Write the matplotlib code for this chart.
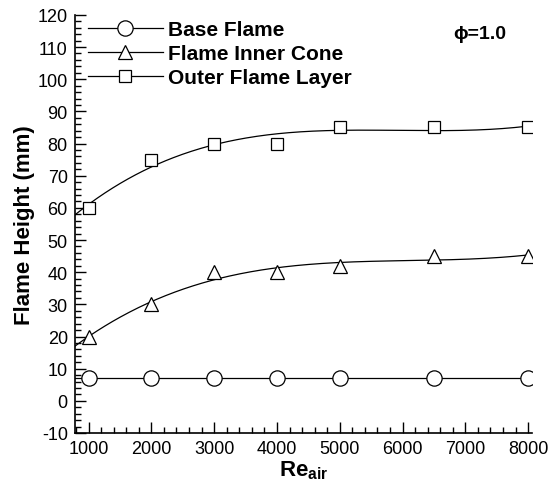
import numpy as np
import matplotlib
matplotlib.use("Agg")
import matplotlib.pyplot as plt
from matplotlib.ticker import MultipleLocator

plt.rcParams['font.family'] = ['Liberation Sans', 'DejaVu Sans']
plt.rcParams['axes.unicode_minus'] = False
plt.rcParams['mathtext.fontset'] = 'custom'
plt.rcParams['mathtext.rm'] = 'Liberation Sans:bold'
plt.rcParams['mathtext.bf'] = 'Liberation Sans:bold'
plt.rcParams['mathtext.default'] = 'bf'

re_air = [1000, 2000, 3000, 4000, 5000, 6500, 8000]
base_flame = [7, 7, 7, 7, 7, 7, 7]
inner_cone = [20, 30, 40, 40, 42, 45, 45]
outer_layer = [60, 75, 80, 80, 85, 85, 85]

fig = plt.figure(figsize=(5.54, 4.89), dpi=100)
ax = fig.add_axes([0.135, 0.1125, 0.825, 0.855])

xs = np.linspace(780, 8000, 300)
series = [(base_flame, 'o', 11, 'Base Flame', 0),
          (inner_cone, '^', 9.5, 'Flame Inner Cone', 3),
          (outer_layer, 's', 8, 'Outer Flame Layer', 3)]
for vals, mk, ms, lab, deg in series:
    if deg == 0:
        fit = np.full_like(xs, np.mean(vals))
    else:
        fit = np.polyval(np.polyfit(re_air, vals, deg), xs)
    ax.plot(xs, fit, color='black', lw=0.9)
    ax.plot(re_air, vals, linestyle='none', marker=mk, ms=ms, mfc='white',
            mec='black', mew=0.9)
    ax.plot([], [], color='black', lw=0.9, marker=mk, ms=ms, mfc='white',
            mec='black', mew=0.9, label=lab)

ax.set_xlim(780, 8060)
ax.set_ylim(-10, 120)
ax.xaxis.set_major_locator(MultipleLocator(1000))
ax.xaxis.set_minor_locator(MultipleLocator(200))
ax.yaxis.set_major_locator(MultipleLocator(10))
ax.yaxis.set_minor_locator(MultipleLocator(2))
ax.tick_params(which='both', direction='in', top=False, right=False,
               labelsize=13, width=1)
ax.tick_params(which='major', length=8, pad=5)
ax.tick_params(which='minor', length=4.5)
for s in ['top', 'right']:
    ax.spines[s].set_visible(False)
for s in ['left', 'bottom']:
    ax.spines[s].set_linewidth(1.2)

ax.set_xlabel('Re$_{air}$', fontsize=16, fontweight='bold', labelpad=1)
ax.set_ylabel('Flame Height (mm)', fontsize=16, fontweight='bold', labelpad=2)

leg = ax.legend(loc='upper left', bbox_to_anchor=(0.028, 0.988), frameon=False,
                prop={'weight': 'bold', 'size': 15}, handlelength=3.6,
                handletextpad=0.25, labelspacing=0.25, borderaxespad=0,
                borderpad=0)
ax.text(0.943, 0.955, 'ϕ=1.0', transform=ax.transAxes, fontsize=14,
        fontweight='bold', ha='right', va='center')

fig.savefig('out.png', dpi=100)
